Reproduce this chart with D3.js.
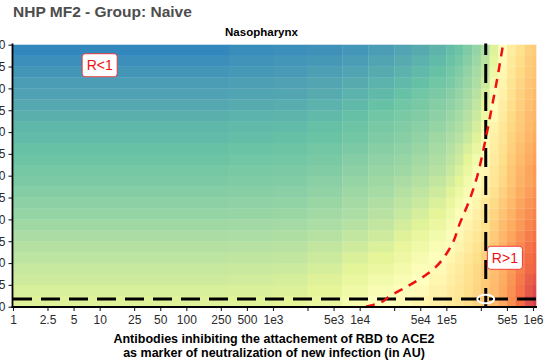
<!DOCTYPE html>
<html>
<head>
<meta charset="utf-8">
<script src="https://cdn.jsdelivr.net/npm/d3@7"></script>
<style>
body { margin: 0; background: #fff; }
text { font-family: "Liberation Sans", Arial, sans-serif; }
</style>
</head>
<body>
<div class="canvas"></div>
<script>
// x axis breaks (antibody level, AU) and their labels
var xTicks = [1, 2.5, 5, 10, 25, 50, 100, 250, 500, 1e3, 2.5e3, 5e3, 1e4, 2.5e4, 5e4, 1e5, 2.5e5, 5e5, 1e6];
var xTickLabels = ["1", "2.5", "5", "10", "25", "50", "100", "250", "500", "1e3", "", "5e3", "1e4", "", "5e4", "1e5", "", "5e5", "1e6"];
var yTicks = [0, 5, 10, 15, 20, 25, 30, 35, 40, 45, 50, 55, 60];

// heatmap cell edges
var cellX = [1, 316, 1000, 2510, 6310, 12600, 25100, 39800, 63100, 100000, 126000, 158000, 200000,
             251000, 316000, 398000, 501000, 631000, 794000, 1000000, 1084000];
var cellY = [0, 2.5, 5, 7.5, 10, 12.5, 15, 17.5, 20, 22.5, 25, 27.5, 30, 32.5, 35, 37.5, 40,
             42.5, 45, 47.5, 50, 52.5, 55, 57.5, 60];

// log10(R) x 100 per cell, first row = bottom band
var rLog100 = [
  [-28,-27,-25,-20,-10,-1,4,8,13,17,21,26,31,37,44,52,62,75,91,99],
  [-31,-30,-29,-24,-16,-7,-2,4,10,15,19,25,30,36,43,51,61,72,86,93],
  [-35,-34,-32,-28,-21,-13,-7,0,7,13,18,23,29,35,42,50,59,70,82,87],
  [-38,-37,-36,-32,-26,-19,-12,-4,4,11,16,22,28,34,41,49,58,67,77,81],
  [-42,-41,-40,-36,-30,-25,-17,-9,-1,7,13,19,25,32,41,50,59,67,75,79],
  [-46,-45,-44,-40,-35,-30,-22,-15,-7,2,9,16,22,29,38,47,56,64,72,76],
  [-50,-49,-48,-45,-40,-35,-28,-21,-13,-4,6,13,19,26,36,45,53,61,68,72],
  [-54,-53,-52,-49,-45,-40,-33,-27,-19,-9,2,10,16,23,33,42,50,58,65,69],
  [-58,-57,-56,-53,-49,-44,-38,-32,-25,-15,-4,5,13,20,30,39,47,56,62,66],
  [-61,-60,-59,-56,-52,-47,-42,-37,-30,-21,-11,-1,9,17,27,36,44,53,59,63],
  [-64,-63,-62,-59,-55,-51,-46,-41,-35,-27,-18,-7,4,13,23,32,41,50,56,60],
  [-67,-66,-65,-62,-58,-54,-50,-46,-40,-33,-25,-13,0,10,20,29,38,47,53,57],
  [-69,-68,-67,-65,-61,-57,-54,-50,-45,-38,-30,-19,-6,6,18,27,37,46,53,58],
  [-72,-71,-70,-68,-64,-60,-57,-53,-48,-42,-35,-25,-13,2,16,25,35,43,50,55],
  [-74,-73,-72,-70,-67,-63,-60,-56,-51,-45,-39,-31,-20,-2,14,23,33,41,48,53],
  [-77,-76,-75,-73,-70,-66,-63,-59,-54,-49,-44,-37,-27,-6,12,21,31,38,45,50],
  [-79,-78,-77,-75,-72,-68,-65,-62,-58,-53,-48,-42,-32,-11,9,19,29,36,43,48],
  [-82,-81,-80,-78,-75,-71,-68,-65,-61,-56,-51,-45,-36,-18,4,16,27,35,42,46],
  [-85,-84,-83,-81,-78,-74,-71,-68,-64,-60,-55,-49,-40,-24,-1,14,25,33,40,45],
  [-88,-87,-86,-84,-81,-78,-74,-71,-67,-63,-58,-52,-44,-31,-7,11,23,32,39,43],
  [-90,-89,-88,-86,-84,-81,-78,-75,-71,-67,-62,-56,-48,-36,-12,9,21,30,37,41],
  [-93,-92,-91,-89,-87,-84,-81,-78,-74,-70,-65,-59,-51,-40,-17,6,19,28,35,39],
  [-96,-94,-93,-92,-90,-87,-84,-81,-77,-73,-69,-63,-55,-44,-23,4,17,26,34,38],
  [-99,-97,-96,-95,-93,-90,-87,-84,-80,-76,-72,-66,-58,-48,-28,1,15,24,32,36]
];

// R = 1 boundary
var contourX = [11800, 16300, 22400, 38100, 64800, 110000, 144000, 183000, 226000, 272000, 327000, 384000, 451000];
var contourY = [0, 0.75, 2.45, 5.0, 7.95, 13.4, 19.2, 24.2, 29.7, 36.6, 44.6, 51.9, 60];

// reference point (dashed cross)
var refX = 285000;
var refY = 1.75;

var palette = ["#3288bd", "#66c2a5", "#abdda4", "#e6f598", "#ffffbf", "#fee08b", "#fdae61", "#f46d43", "#d53e4f"];

var svg = d3.select(".canvas")
	.append("svg")
	.attr("width", 548)
	.attr("height", 360);

var x = d3.scaleLog().domain([1, 1e6]).range([13, 533]);
var y = d3.scaleLinear().domain([0, 60]).range([306.7, 44.7]);

var ext = d3.extent(d3.merge(rLog100));
var color = d3.scaleLinear()
	.domain(palette.map(function(c, i){ return ext[0] + i * (ext[1] - ext[0]) / (palette.length - 1); }))
	.range(palette)
	.interpolate(d3.interpolateLab);

// heatmap
var cells = [];
rLog100.forEach(function(row, i){
	row.forEach(function(v, j){
		cells.push({i: i, j: j, v: v});
	});
});

svg.append("g")
	.selectAll("rect")
	.data(cells)
	.enter()
	.append("rect")
	.attr("x", function(d){ return x(cellX[d.j]); })
	.attr("width", function(d){ return x(cellX[d.j + 1]) - x(cellX[d.j]) + 0.3; })
	.attr("y", function(d){ return y(cellY[d.i + 1]); })
	.attr("height", function(d){ return y(cellY[d.i]) - y(cellY[d.i + 1]) + 0.3; })
	.attr("fill", function(d){ return color(d.v); });

// dashed reference lines
svg.append("line")
	.attr("x1", 13)
	.attr("x2", 536)
	.attr("y1", y(refY))
	.attr("y2", y(refY))
	.attr("stroke", "black")
	.attr("stroke-width", 3)
	.attr("stroke-dasharray", "19,9");

svg.append("line")
	.attr("x1", x(refX))
	.attr("x2", x(refX))
	.attr("y1", 307)
	.attr("y2", 43.5)
	.attr("stroke", "black")
	.attr("stroke-width", 3)
	.attr("stroke-dasharray", "19,9");

// R = 1 contour
var line = d3.line()
	.x(function(d, i){ return x(contourX[i]); })
	.y(function(d, i){ return y(contourY[i]); })
	.curve(d3.curveMonotoneY);

svg.append("path")
	.datum(contourX)
	.attr("d", line)
	.attr("fill", "none")
	.attr("stroke", "#f01010")
	.attr("stroke-width", 2.5)
	.attr("stroke-dasharray", "9,7");

svg.append("ellipse")
	.attr("cx", x(refX))
	.attr("cy", y(refY))
	.attr("rx", 8.5)
	.attr("ry", 4.2)
	.attr("fill", "none")
	.attr("stroke", "white")
	.attr("stroke-width", 2);

// labels R<1 / R>1
function rLabel(cx, cy, txt){
	svg.append("rect")
		.attr("x", cx - 17.5)
		.attr("y", cy - 11.5)
		.attr("width", 35)
		.attr("height", 23)
		.attr("rx", 3)
		.attr("fill", "white")
		.attr("stroke", "#ee3030")
		.attr("stroke-width", 0.9);
	svg.append("text")
		.attr("x", cx)
		.attr("y", cy + 5)
		.attr("text-anchor", "middle")
		.attr("font-size", "14px")
		.attr("fill", "#f01010")
		.text(txt);
}
rLabel(x(10), y(55.3), "R<1");
rLabel(x(5e5) - 2, y(11.2), "R>1");

// axes
var xAxis = svg.append("g")
	.attr("transform", "translate(0,307)")
	.call(d3.axisBottom(x).tickValues(xTicks)
		.tickFormat(function(d, i){ return xTickLabels[i]; })
		.tickSize(4).tickSizeOuter(0).tickPadding(4));

var yAxis = svg.append("g")
	.attr("transform", "translate(12.5,0)")
	.call(d3.axisLeft(y).tickValues(yTicks).tickSize(4).tickSizeOuter(0).tickPadding(3));

[xAxis, yAxis].forEach(function(g){
	g.select(".domain").remove();
	g.selectAll(".tick line").attr("stroke", "#222").attr("stroke-width", 1.1);
	g.selectAll(".tick text")
		.attr("font-family", "'Liberation Sans', Arial, sans-serif")
		.attr("font-size", "12px")
		.attr("fill", "#2a2a2a");
});

svg.append("line")
	.attr("x1", 11.6).attr("x2", 537)
	.attr("y1", 307).attr("y2", 307)
	.attr("stroke", "black").attr("stroke-width", 1.8);

svg.append("line")
	.attr("x1", 12.5).attr("x2", 12.5)
	.attr("y1", 43.5).attr("y2", 307.9)
	.attr("stroke", "black").attr("stroke-width", 1.8);

// titles
svg.append("text")
	.attr("x", 13)
	.attr("y", 17)
	.attr("font-size", "15.5px")
	.attr("font-weight", "bold")
	.attr("fill", "#4d4d4d")
	.text("NHP MF2 - Group: Naive");

svg.append("text")
	.attr("x", 261.5)
	.attr("y", 35.5)
	.attr("text-anchor", "middle")
	.attr("font-size", "11.5px")
	.attr("font-weight", "bold")
	.attr("fill", "black")
	.text("Nasopharynx");

svg.append("text")
	.attr("x", 274)
	.attr("y", 342.5)
	.attr("text-anchor", "middle")
	.attr("font-size", "12.5px")
	.attr("font-weight", "bold")
	.attr("fill", "black")
	.text("Antibodies inhibiting the attachement of RBD to ACE2");

svg.append("text")
	.attr("x", 274)
	.attr("y", 356.5)
	.attr("text-anchor", "middle")
	.attr("font-size", "12.5px")
	.attr("font-weight", "bold")
	.attr("fill", "black")
	.text("as marker of neutralization of new infection (in AU)");
</script>
</body>
</html>
